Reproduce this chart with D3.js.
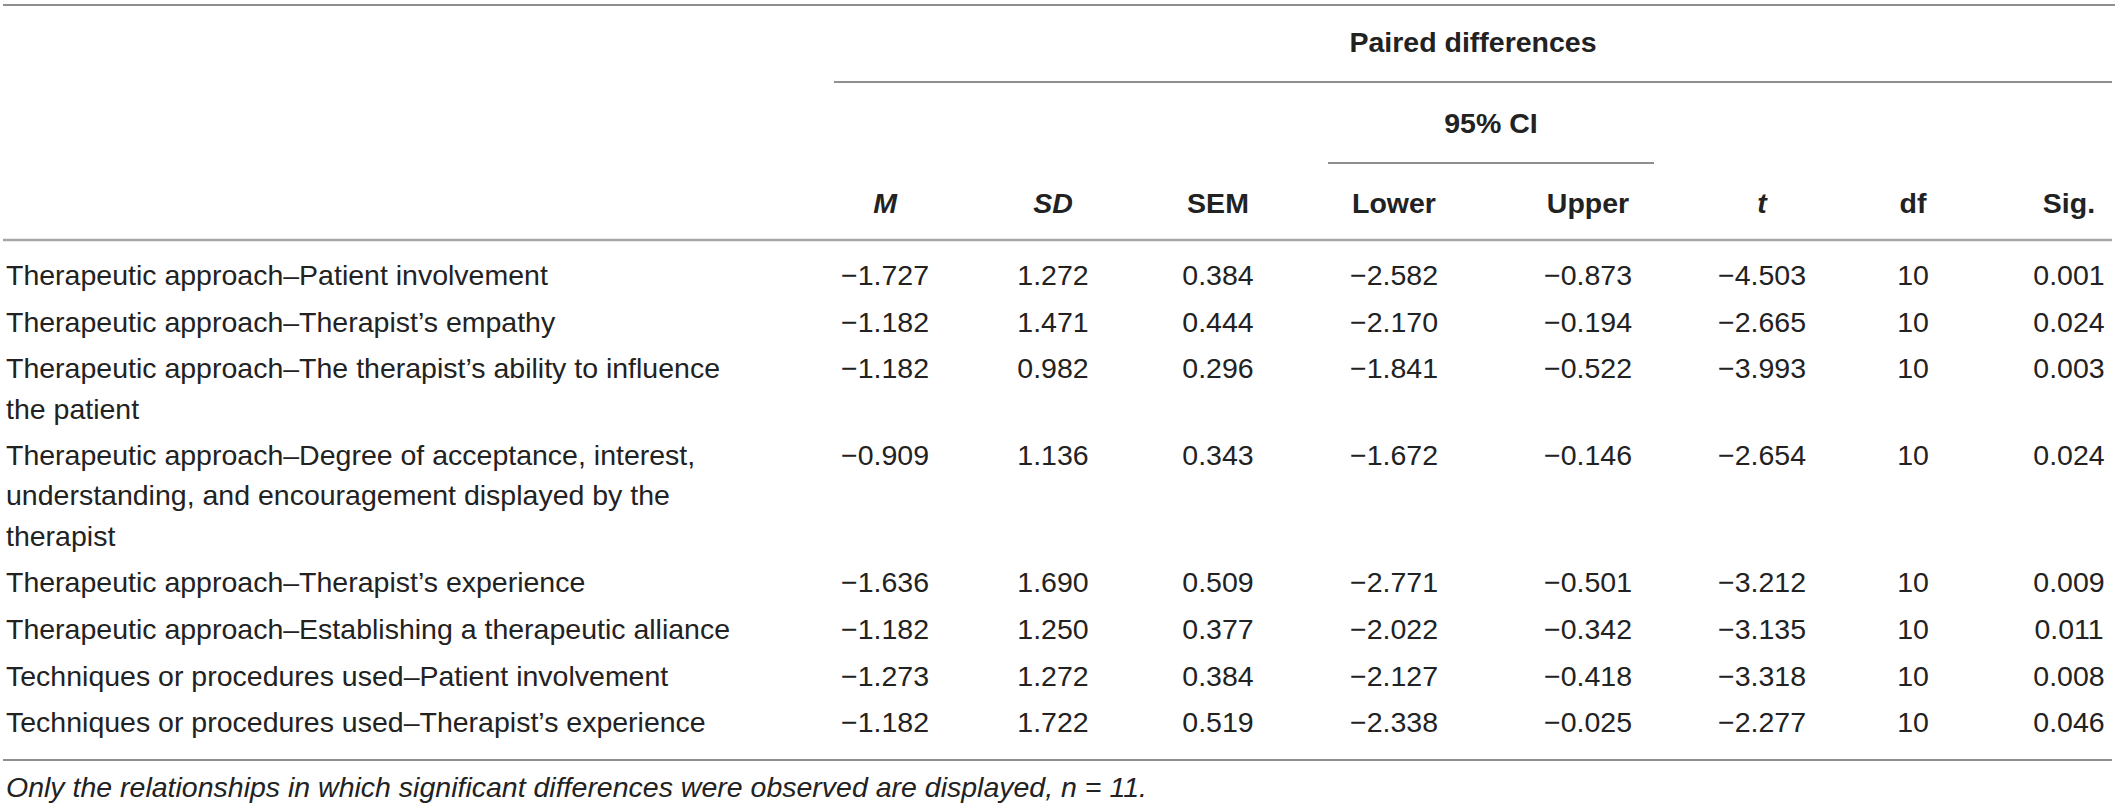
<!DOCTYPE html>
<html>
<head>
<meta charset="utf-8">
<script src="https://cdn.jsdelivr.net/npm/d3@7"></script>
<style>
  html, body { margin: 0; padding: 0; background: #fff; }
  svg { display: block; }
  text { font-family: "Liberation Sans", Arial, Helvetica, sans-serif; fill: #222; }
</style>
</head>
<body>
<svg id="chart" width="2118" height="809"></svg>
<script>
// ---------- data ----------
const columns = ["M", "SD", "SEM", "Lower", "Upper", "t", "df", "Sig."];
const italicHeaders = ["M", "SD", "t"];
const spannerTop = "Paired differences";
const spannerCI = "95% CI";

const pairs = [
  ["Therapeutic approach–Patient involvement"],
  ["Therapeutic approach–Therapist’s empathy"],
  ["Therapeutic approach–The therapist’s ability to influence", "the patient"],
  ["Therapeutic approach–Degree of acceptance, interest,", "understanding, and encouragement displayed by the", "therapist"],
  ["Therapeutic approach–Therapist’s experience"],
  ["Therapeutic approach–Establishing a therapeutic alliance"],
  ["Techniques or procedures used–Patient involvement"],
  ["Techniques or procedures used–Therapist’s experience"]
];
const meanDiff = ["−1.727", "−1.182", "−1.182", "−0.909", "−1.636", "−1.182", "−1.273", "−1.182"];
const sdDiff   = ["1.272", "1.471", "0.982", "1.136", "1.690", "1.250", "1.272", "1.722"];
const semDiff  = ["0.384", "0.444", "0.296", "0.343", "0.509", "0.377", "0.384", "0.519"];
const ciLower  = ["−2.582", "−2.170", "−1.841", "−1.672", "−2.771", "−2.022", "−2.127", "−2.338"];
const ciUpper  = ["−0.873", "−0.194", "−0.522", "−0.146", "−0.501", "−0.342", "−0.418", "−0.025"];
const tValues  = ["−4.503", "−2.665", "−3.993", "−2.654", "−3.212", "−3.135", "−3.318", "−2.277"];
const dfValues = ["10", "10", "10", "10", "10", "10", "10", "10"];
const sigValues = ["0.001", "0.024", "0.003", "0.024", "0.009", "0.011", "0.008", "0.046"];
const footnote = "Only the relationships in which significant differences were observed are displayed, ";

// ---------- layout ----------
const svg = d3.select("#chart");
const FS = 28.5;
const lineColor = "#8f8f8f";

const colData = [meanDiff, sdDiff, semDiff, ciLower, ciUpper, tValues, dfValues, sigValues];
const x = d3.scaleOrdinal().domain(columns)
  .range([885, 1053, 1218, 1394, 1588, 1762, 1913, 2069]);

// vertical: row index + extra wrapped lines before it
const rowPitch = 46.6, wrapPitch = 40.3, firstBaseline = 285;
const extraBefore = [];
pairs.reduce((acc, p, i) => { extraBefore[i] = acc; return acc + p.length - 1; }, 0);
const yRow = d3.scaleLinear().domain([0, 1]).range([firstBaseline, firstBaseline + rowPitch]);
const rowY = i => yRow(i) + extraBefore[i] * wrapPitch;

function hline(x1, x2, y, w, c) {
  svg.append("line").attr("x1", x1).attr("x2", x2).attr("y1", y).attr("y2", y)
    .attr("stroke", c || lineColor).attr("stroke-width", w || 2);
}

// rules
hline(3, 2115, 5, 2);
hline(834, 2112, 82, 2);
hline(1328, 1654, 163, 2);
hline(3, 2112, 240, 2.6, "#a6a6a6");
hline(3, 2112, 760, 2);

// spanner headers
svg.append("text").attr("x", (834 + 2112) / 2).attr("y", 52)
  .attr("text-anchor", "middle").attr("font-weight", "bold").attr("font-size", FS)
  .text(spannerTop);
svg.append("text").attr("x", (1328 + 1654) / 2).attr("y", 133)
  .attr("text-anchor", "middle").attr("font-weight", "bold").attr("font-size", FS)
  .text(spannerCI);

// column headers
svg.selectAll("text.colhead").data(columns).join("text")
  .attr("class", "colhead")
  .attr("x", d => x(d)).attr("y", 213)
  .attr("text-anchor", "middle").attr("font-weight", "bold")
  .attr("font-style", d => italicHeaders.includes(d) ? "italic" : "normal")
  .attr("font-size", FS)
  .text(d => d);

// row labels
const labelG = svg.selectAll("text.label").data(pairs).join("text")
  .attr("class", "label")
  .attr("x", 6)
  .attr("y", (d, i) => rowY(i))
  .attr("font-size", FS);
labelG.selectAll("tspan").data(d => d).join("tspan")
  .attr("x", 6)
  .attr("dy", (d, j) => j === 0 ? 0 : wrapPitch)
  .text(d => d);

// numeric cells
columns.forEach((col, ci) => {
  svg.selectAll("text.c" + ci).data(colData[ci]).join("text")
    .attr("class", "c" + ci)
    .attr("x", x(col))
    .attr("y", (d, i) => rowY(i))
    .attr("text-anchor", "middle")
    .attr("font-size", FS)
    .text(d => d);
});

// footnote
const fn = svg.append("text").attr("x", 6).attr("y", 797)
  .attr("font-size", FS).attr("font-style", "italic");
fn.append("tspan").text(footnote);
fn.append("tspan").attr("font-style", "italic").text("n");
fn.append("tspan").text(" = 11.");
</script>
</body>
</html>
